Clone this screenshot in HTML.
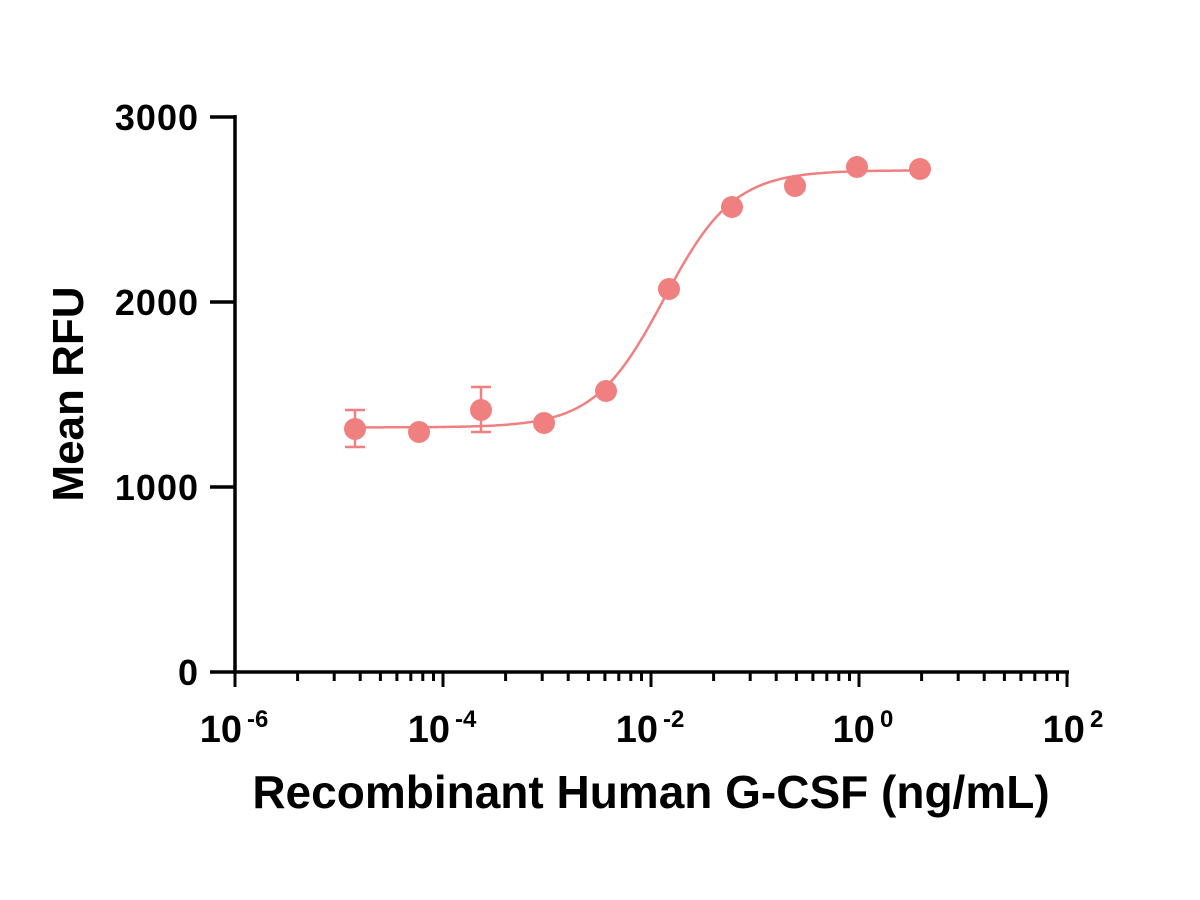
<!DOCTYPE html>
<html><head><meta charset="utf-8"><style>
html,body{margin:0;padding:0;background:#fff;}
svg{display:block;font-family:"Liberation Sans",Arial,sans-serif;font-weight:bold;}
</style></head><body>
<svg id="s" width="1200" height="900" viewBox="0 0 1200 900" xmlns="http://www.w3.org/2000/svg">
<g stroke="#000" stroke-width="3.5" fill="none">
<line x1="235" y1="115" x2="235" y2="673.5"/>
<line x1="233" y1="672" x2="1069" y2="672"/>
<line x1="210" y1="117" x2="235" y2="117"/>
<line x1="210" y1="302" x2="235" y2="302"/>
<line x1="210" y1="487" x2="235" y2="487"/>
<line x1="210" y1="672" x2="235" y2="672"/>
</g>
<g id="xt" stroke="#000" stroke-width="3" fill="none"></g>
<g font-size="36" text-anchor="end" fill="#000" letter-spacing="1">
<text x="199" y="130">3000</text>
<text x="199" y="315">2000</text>
<text x="199" y="500">1000</text>
<text x="199" y="685">0</text>
</g>
<g font-size="38" fill="#000" text-anchor="middle">
<text x="234" y="742">10<tspan dx="5" dy="-15" font-size="24">-6</tspan></text>
<text x="442" y="742">10<tspan dx="5" dy="-15" font-size="24">-4</tspan></text>
<text x="650" y="742">10<tspan dx="5" dy="-15" font-size="24">-2</tspan></text>
<text x="863" y="742">10<tspan dx="5" dy="-15" font-size="24">0</tspan></text>
<text x="1073" y="742">10<tspan dx="5" dy="-15" font-size="24">2</tspan></text>
</g>
<text x="651" y="808" font-size="46" text-anchor="middle" fill="#000">Recombinant Human G-CSF (ng/mL)</text>
<text transform="translate(83,394) rotate(-90)" font-size="44" text-anchor="middle" fill="#000">Mean RFU</text>
<path id="curve" fill="none" stroke="#F08080" stroke-width="2.5"/>
<g stroke="#F08080" stroke-width="2.5">
<line x1="355" y1="410" x2="355" y2="447"/><line x1="345" y1="410" x2="365" y2="410"/><line x1="345" y1="447" x2="365" y2="447"/>
<line x1="481" y1="387" x2="481" y2="432"/><line x1="471" y1="387" x2="491" y2="387"/><line x1="471" y1="432" x2="491" y2="432"/>
</g>
<g fill="#F08080">
<circle cx="355" cy="429" r="11"/><circle cx="419" cy="432" r="11"/><circle cx="481" cy="410" r="11"/>
<circle cx="544" cy="423" r="11"/><circle cx="606" cy="391" r="11"/><circle cx="669" cy="289" r="11"/>
<circle cx="732" cy="207" r="11"/><circle cx="795" cy="186" r="11"/><circle cx="857" cy="167" r="11"/>
<circle cx="920" cy="169" r="11"/>
</g>
</svg>
<script>
var g=document.getElementById('xt'),s='';
for(var d=0;d<4;d++){var x0=235+208*d;s+='<line x1="'+x0+'" y1="672" x2="'+x0+'" y2="687"/>';
for(var m=2;m<10;m++){var x=x0+208*Math.log10(m);s+='<line x1="'+x.toFixed(1)+'" y1="672" x2="'+x.toFixed(1)+'" y2="681"/>';}}
s+='<line x1="1067" y1="672" x2="1067" y2="687"/>';
g.innerHTML=s;
var p='',b=1322,t=2712,h=1.3,c=664;
for(var x=355;x<=920;x+=2){var u=(x-c)/104;var v=b+(t-b)/(1+Math.pow(10,-u*h));var y=672-v*0.185;p+=(x==355?'M':'L')+x+' '+y.toFixed(1);}
document.getElementById('curve').setAttribute('d',p);
</script>
</body></html>
